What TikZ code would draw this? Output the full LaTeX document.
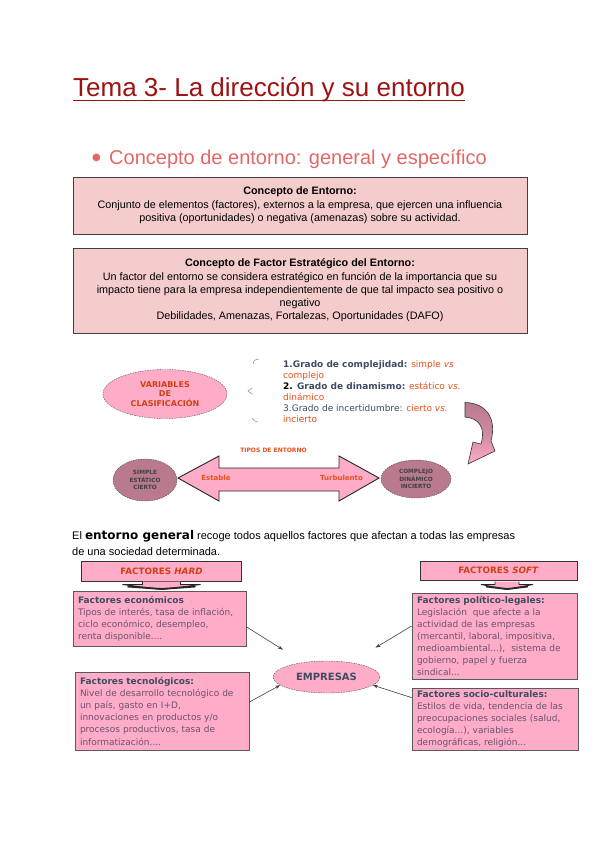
\documentclass[tikz,border=0pt]{standalone}
\usepackage{fontspec}
\setmainfont{Liberation Sans}
\newfontfamily\verdana{DejaVu Sans}
\usepackage{xcolor}
\usepackage{tikz}
\usetikzlibrary{arrows.meta,positioning,shapes.geometric}

\definecolor{titlered}{RGB}{158,18,18}
\definecolor{bulletred}{RGB}{226,104,104}
\definecolor{boxpink}{RGB}{244,204,204}
\definecolor{hotpink}{RGB}{255,172,200}
\definecolor{mauve}{RGB}{185,122,142}
\definecolor{slate}{RGB}{62,76,98}
\definecolor{orangered}{RGB}{232,80,26}
\definecolor{darkorange}{RGB}{208,64,16}
\definecolor{plumtext}{RGB}{108,82,112}

\begin{document}
\begin{tikzpicture}[x=1pt, y=-1pt,
      conbox/.style={draw=black!75, fill=boxpink, line width=0.8pt, minimum width=454pt, inner sep=0pt, align=center, font=\fontsize{10.8}{13.3}\selectfont},
      pinkell/.style={ellipse, draw=black!70, dash pattern=on 1.5pt off 1pt, fill=hotpink, inner sep=0pt, align=center},
      mauvell/.style={ellipse, draw=black!70, dash pattern=on 1.5pt off 1pt, fill=mauve, inner sep=0pt, align=center, font=\verdana\bfseries\fontsize{5.8}{7.8}\selectfont, text=black!75},
      taglab/.style={font=\verdana\bfseries\fontsize{7}{8}\selectfont, text=orangered, inner sep=0pt},
      factitle/.style={draw=black!80, fill=hotpink, line width=0.7pt, inner sep=0pt, font=\verdana\bfseries\fontsize{8.8}{10}\selectfont, text=darkorange},
      facbox/.style={draw=black!65, fill=hotpink, line width=0.7pt, inner xsep=5pt, inner ysep=0pt, align=left, font=\verdana\fontsize{9}{12.2}\selectfont, text=plumtext},
      blockar/.style={draw=black!85, fill=hotpink, line width=0.9pt},
      conn/.style={draw=black!75, line width=0.6pt, -{Stealth[length=5pt, width=3.5pt]}}]
    \path[fill=white] (0,0) rectangle (600,848);
    % heading
    \node[anchor=base west, inner sep=0pt, font=\fontsize{26}{30}\selectfont, text=titlered] (title) at (73,97) {Tema 3- La dirección y su entorno};
    \draw[titlered, line width=1.3pt] ([yshift=-3.3pt]title.base west) -- ([yshift=-3.3pt]title.base east);
    \node[anchor=base west, inner sep=0pt, font=\fontsize{20}{24}\selectfont, text=bulletred] (sub) at (109,164) {Concepto de entorno: general y específico};
    \node[inner sep=0pt, font=\verdana\fontsize{10}{10}\selectfont, text=bulletred] (dot) at (96.5,158) {●};
    % concept boxes
    \node[conbox, minimum height=57pt] (conent) at (300,205.5) {\textbf{Concepto de Entorno:}\\Conjunto de elementos (factores), externos a la empresa, que ejercen una influencia\\positiva (oportunidades) o negativa (amenazas) sobre su actividad.};
    \node[conbox, minimum height=85pt] (confac) at (300,290.5) {\textbf{Concepto de Factor Estratégico del Entorno:}\\Un factor del entorno se considera estratégico en función de la importancia que su\\impacto tiene para la empresa independientemente de que tal impacto sea positivo o\\negativo\\Debilidades, Amenazas, Fortalezas, Oportunidades (DAFO)};
    % variables
    \node[pinkell, minimum width=124pt, minimum height=49pt, font=\verdana\bfseries\fontsize{8}{9.8}\selectfont, text=darkorange] (vars) at (165,394) {VARIABLES\\DE\\CLASIFICACIÓN};
    \draw[black!45, line width=0.5pt] (253,364) .. controls (254,360) .. (259,359);
    \draw[black!45, line width=0.5pt] (252,388) -- (248,391) -- (252,394);
    \draw[black!45, line width=0.5pt] (252,418) .. controls (254,421) .. (258,422);
    \node[anchor=north west, inner sep=0pt, align=left, font=\verdana\fontsize{9}{11}\selectfont, text=orangered] (grados) at (283,360) {%
      {\bfseries\color{slate}1.Grado de complejidad:} simple \textit{vs}\\
      complejo\\
      {\bfseries\color{black}2. \color{slate}Grado de dinamismo:} estático \textit{vs.}\\
      dinámico\\
      {\color{slate}3.Grado de incertidumbre:} cierto \textit{vs.}\\
      incierto};
    \draw[draw=black!80, line width=0.6pt, top color=mauve, bottom color=hotpink, middle color=mauve!70!hotpink]
      (465,402.5) .. controls (486,403) and (497,418) .. (491,441) -- (495,451) -- (468,464)
      -- (473,442) -- (481,444) .. controls (486,428) and (479,418) .. (465,417) -- cycle;
    % tipos de entorno
    \draw[blockar] (178,478) -- (219,456) -- (219,468) -- (339,468) -- (339,456) -- (379,478)
      -- (339,501) -- (339,491) -- (219,491) -- (219,501) -- cycle;
    \node[taglab, font=\verdana\bfseries\fontsize{6}{7}\selectfont] (tipos) at (273.5,450) {TIPOS DE ENTORNO};
    \node[taglab] (estable) at (216,478) {Estable};
    \node[taglab] (turb) at (341.5,478) {Turbulento};
    \node[mauvell, minimum width=64pt, minimum height=42pt] (simple) at (145,480) {SIMPLE\\ESTÁTICO\\CIERTO};
    \node[mauvell, minimum width=70pt, minimum height=38pt] (complejo) at (416,479) {COMPLEJO\\DINÁMICO\\INCIERTO};
    % entorno general
    \node[anchor=base west, inner sep=0pt, font=\fontsize{11}{13}\selectfont] (gen1) at (72,539) {El {\verdana\bfseries\fontsize{12}{13}\selectfont entorno general} recoge todos aquellos factores que afectan a todas las empresas};
    \node[anchor=base west, inner sep=0pt, font=\fontsize{11}{13}\selectfont] (gen2) at (72,555) {de una sociedad determinada.};
    % hard / soft
    \node[factitle, minimum width=160pt, minimum height=20pt] (hard) at (161.5,571) {FACTORES \textit{HARD}};
    \node[factitle, minimum width=157pt, minimum height=19pt] (soft) at (498.5,570.5) {FACTORES \textit{SOFT}};
    \node[facbox, text width=163pt, minimum height=54.5pt] (eco) at (159.5,618.75) {{\bfseries\color{slate}Factores económicos}\\Tipos de interés, tasa de inflación,\\ciclo económico, desempleo,\\renta disponible....};
    \node[facbox, text width=164pt, minimum height=78pt] (tec) at (162,711) {{\bfseries\color{slate}Factores tecnológicos:}\\Nivel de desarrollo tecnológico de\\un país, gasto en I+D,\\innovaciones en productos y/o\\procesos productivos, tasa de\\informatización....};
    \node[facbox, text width=155pt, minimum height=86pt, font=\verdana\fontsize{9}{12}\selectfont] (pol) at (494.5,636) {{\bfseries\color{slate}Factores político-legales:}\\Legislación\ \ que afecte a la\\actividad de las empresas\\(mercantil, laboral, impositiva,\\medioambiental...),\ \ sistema de\\gobierno, papel y fuerza\\sindical...};
    \node[facbox, text width=156pt, minimum height=62pt] (soc) at (495,719) {{\bfseries\color{slate}Factores socio-culturales:}\\Estilos de vida, tendencia de las\\preocupaciones sociales (salud,\\ecología...), variables\\demográficas, religión...};
    \node[pinkell, minimum width=107pt, minimum height=32pt, font=\verdana\bfseries\fontsize{10}{12}\selectfont, text=slate] (emp) at (326.5,677) {EMPRESAS};
    % links to empresas
    \draw[conn, shorten >=24pt] ([yshift=-8pt]eco.east) -- (emp);
    \draw[conn, shorten >=29pt] ([yshift=10pt]pol.west) -- (emp);
    \draw[conn] ([yshift=9pt]tec.east) -- (emp.190);
    \draw[conn] ([yshift=-10pt]soc.north west) -- (emp.-10);
    % block arrows under hard / soft
    \foreach \cx/\sx/\fx in {161.5/19/39, 507/12/26} {
      \draw[blockar] ({\cx-\sx},581.5) -- ({\cx-\sx},584.5) -- ({\cx-\fx},584.5) -- (\cx,589.5) -- ({\cx+\fx},584.5) -- ({\cx+\sx},584.5) -- ({\cx+\sx},581.5);
      \draw[black!85, line width=1.8pt] ({\cx-\fx+5},586.5) -- (\cx,589) -- ({\cx+\fx-5},586.5);
    }
  \end{tikzpicture}
\end{document}
